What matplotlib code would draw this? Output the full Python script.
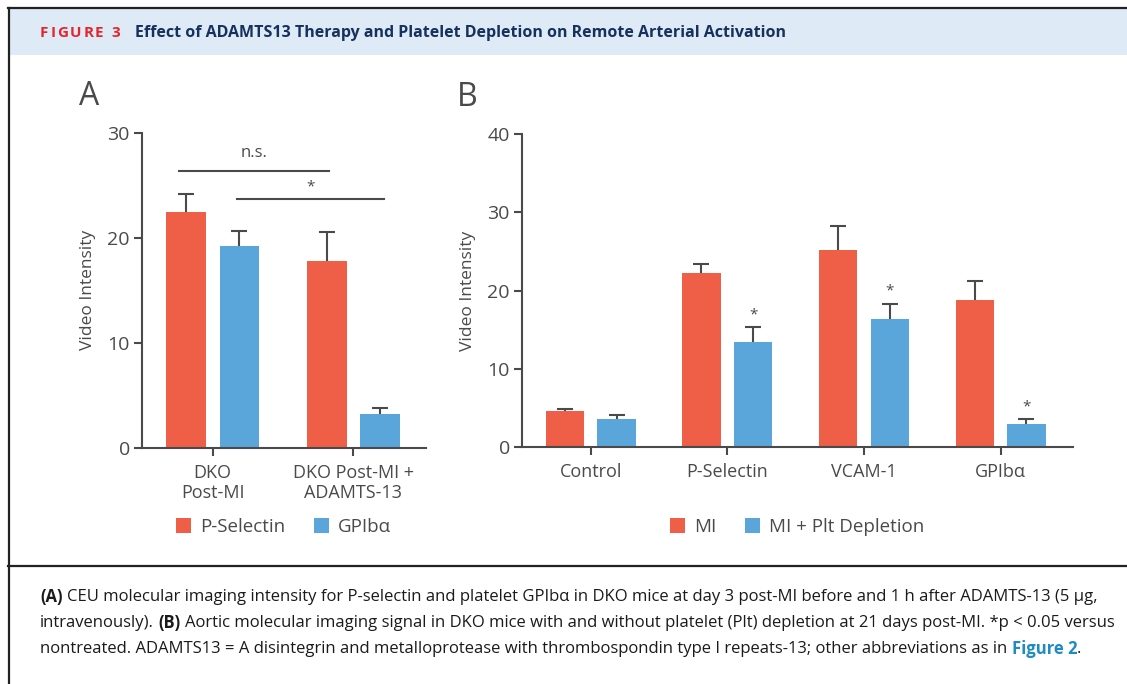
import matplotlib
matplotlib.use("Agg")
import matplotlib.pyplot as plt
from matplotlib.patches import Rectangle
from matplotlib.lines import Line2D
import numpy as np

plt.rcParams['font.family'] = ['Open Sans', 'DejaVu Sans']

# datos panel A
grupos_a = ['DKO\nPost-MI', 'DKO Post-MI +\nADAMTS-13']
psel_a = [22.5, 17.8]
psel_a_err = [1.7, 2.8]
gp_a = [19.2, 3.2]
gp_a_err = [1.5, 0.55]

# datos panel B
cats_b = ['Control', 'P-Selectin', 'VCAM-1', 'GPIbα']
mi_b = [4.65, 22.25, 25.2, 18.8]
mi_b_err = [0.25, 1.15, 3.0, 2.4]
dep_b = [3.6, 13.45, 16.4, 3.0]
dep_b_err = [0.5, 1.85, 1.9, 0.6]
sig_b = [False, True, True, True]

RED = '#EF5E47'
BLUE = '#5AA6DA'
GRAY = '#4A4A4A'
W, H = 1127, 684

fig = plt.figure(figsize=(W / 100, H / 100), dpi=100)

# marco, banda del titulo
fig.patches.append(Rectangle((9 / W, 1 - 55 / H), 1, 46 / H, transform=fig.transFigure,
                             facecolor='#DEEAF6', edgecolor='none', zorder=0))
for xs, ys in [([8, W], [8, 8]), ([8.5, 8.5], [8, H]), ([8, W], [566, 566])]:
    fig.lines.append(Line2D([x / W for x in xs], [1 - y / H for y in ys],
                            transform=fig.transFigure, color='#222222', lw=1.6))

r = fig.canvas.get_renderer()


def texto(x, y, parts, size):
    # pone trozos de texto uno tras otro en pixeles
    for s, kw in parts:
        if s == ' ':
            t = fig.text(0, 0, 'x x', fontsize=size, **kw)
            t2 = fig.text(0, 0, 'xx', fontsize=size, **kw)
            x += t.get_window_extent(r).width - t2.get_window_extent(r).width
            t.remove(); t2.remove()
            continue
        t = fig.text(x / W, 1 - y / H, s, fontsize=size, va='center', ha='left', **kw)
        x += t.get_window_extent(r).width


# encabezado
x = 40
for ch in 'FIGURE 3':
    t = fig.text(x / W, 1 - 33 / H, ch, fontsize=11, fontweight='bold', color='#E4252D',
                 va='center', ha='left')
    x += (t.get_window_extent(r).width if ch != ' ' else 4) + 1.8
fig.text(135 / W, 1 - 33 / H, 'Effect of ADAMTS13 Therapy and Platelet Depletion on Remote Arterial Activation',
         fontsize=11.5, fontweight='bold', color='#16325C', va='center', ha='left')

# pie de figura
n = {'color': '#1A1A1A'}
b = {'color': '#1A1A1A', 'fontweight': 'bold'}
cap = 12
texto(40, 597, [('(A)', b), (' ', n), ('CEU molecular imaging intensity for P-selectin and platelet GPIbα in DKO mice at day 3 post-MI before and 1 h after ADAMTS-13 (5 μg,', n)], cap)
texto(40, 623, [('intravenously).', n), (' ', n), ('(B)', b), (' ', n), ('Aortic molecular imaging signal in DKO mice with and without platelet (Plt) depletion at 21 days post-MI. *p < 0.05 versus', n)], cap)
texto(40, 649, [('nontreated. ADAMTS13 = A disintegrin and metalloprotease with thrombospondin type I repeats-13; other abbreviations as in', n), (' ', n),
                ('Figure 2', {'color': '#1E8BC3', 'fontweight': 'bold'}), ('.', n)], cap)


def estilo(ax, ymax, step):
    for s in ['top', 'right']:
        ax.spines[s].set_visible(False)
    for s in ['left', 'bottom']:
        ax.spines[s].set_color(GRAY)
        ax.spines[s].set_linewidth(1.5)
    ax.set_ylim(0, ymax)
    ax.set_yticks(np.arange(0, ymax + 1, step))
    ax.tick_params(axis='y', colors=GRAY, labelsize=14, width=1.5, length=5.5, pad=3)
    ax.tick_params(axis='x', colors=GRAY, labelsize=13, width=1.5, length=5.5, pad=6)
    ax.set_ylabel('Video Intensity', fontsize=12.5, color=GRAY, labelpad=8)


def sin_tapa_abajo(barras):
    # quita la tapa inferior de la barra de error
    caps = barras.errorbar.lines[1]
    caps[0].remove()


w, off = 0.28, 0.189
ebk = dict(ecolor=GRAY, elinewidth=1.5, capsize=6, capthick=1.5)

# Panel A
axA = fig.add_axes([141.7 / W, 1 - 447.7 / H, 284 / W, 314.7 / H])
xa = np.arange(len(grupos_a))
h1 = axA.bar(xa - off, psel_a, w, color=RED, yerr=[np.zeros(2), psel_a_err], error_kw=ebk, label='P-Selectin')
h2 = axA.bar(xa + off, gp_a, w, color=BLUE, yerr=[np.zeros(2), gp_a_err], error_kw=ebk, label='GPIbα')
sin_tapa_abajo(h1); sin_tapa_abajo(h2)
estilo(axA, 30, 10)
axA.set_xlim(-0.505, 1.514)
axA.set_xticks(xa)
axA.set_xticklabels(grupos_a)
axA.plot([-0.24, 0.827], [26.4, 26.4], color=GRAY, lw=1.5)
axA.text(0.296, 27.3, 'n.s.', ha='center', va='bottom', fontsize=12, color=GRAY)
axA.plot([0.173, 1.218], [23.68, 23.68], color=GRAY, lw=1.5)
axA.text(0.692, 24.1, '*', ha='center', va='bottom', fontsize=11, color=GRAY)
axA.legend(loc='center', bbox_to_anchor=(0.5, -0.252), ncol=2, frameon=False, fontsize=13.5,
           handlelength=0.8, handleheight=0.8, handletextpad=0.5, columnspacing=1.5, labelcolor=GRAY)
axA.text(-0.22, 1.117, 'A', transform=axA.transAxes, fontsize=23, color=GRAY, va='center')

# Panel B
axB = fig.add_axes([521.7 / W, 1 - 447.3 / H, 551 / W, 313.3 / H])
xb = np.arange(len(cats_b))
h3 = axB.bar(xb - off, mi_b, w, color=RED, yerr=[np.zeros(4), mi_b_err], error_kw=ebk, label='MI')
h4 = axB.bar(xb + off, dep_b, w, color=BLUE, yerr=[np.zeros(4), dep_b_err], error_kw=ebk, label='MI + Plt Depletion')
sin_tapa_abajo(h3); sin_tapa_abajo(h4)
for i in range(len(cats_b)):
    if sig_b[i]:
        axB.annotate('*', (xb[i] + off, dep_b[i] + dep_b_err[i]), xytext=(0, 9), textcoords='offset points',
                     ha='center', va='center', fontsize=11, color=GRAY)
estilo(axB, 40, 10)
axB.set_xlim(-0.505, 3.528)
axB.set_xticks(xb)
axB.set_xticklabels(cats_b)
axB.legend(loc='center', bbox_to_anchor=(0.5, -0.254), ncol=2, frameon=False, fontsize=13.5,
           handlelength=0.8, handleheight=0.8, handletextpad=0.5, columnspacing=1.5, labelcolor=GRAY)
axB.text(-0.118, 1.117, 'B', transform=axB.transAxes, fontsize=23, color=GRAY, va='center')

fig.savefig('out.png', dpi=100)
